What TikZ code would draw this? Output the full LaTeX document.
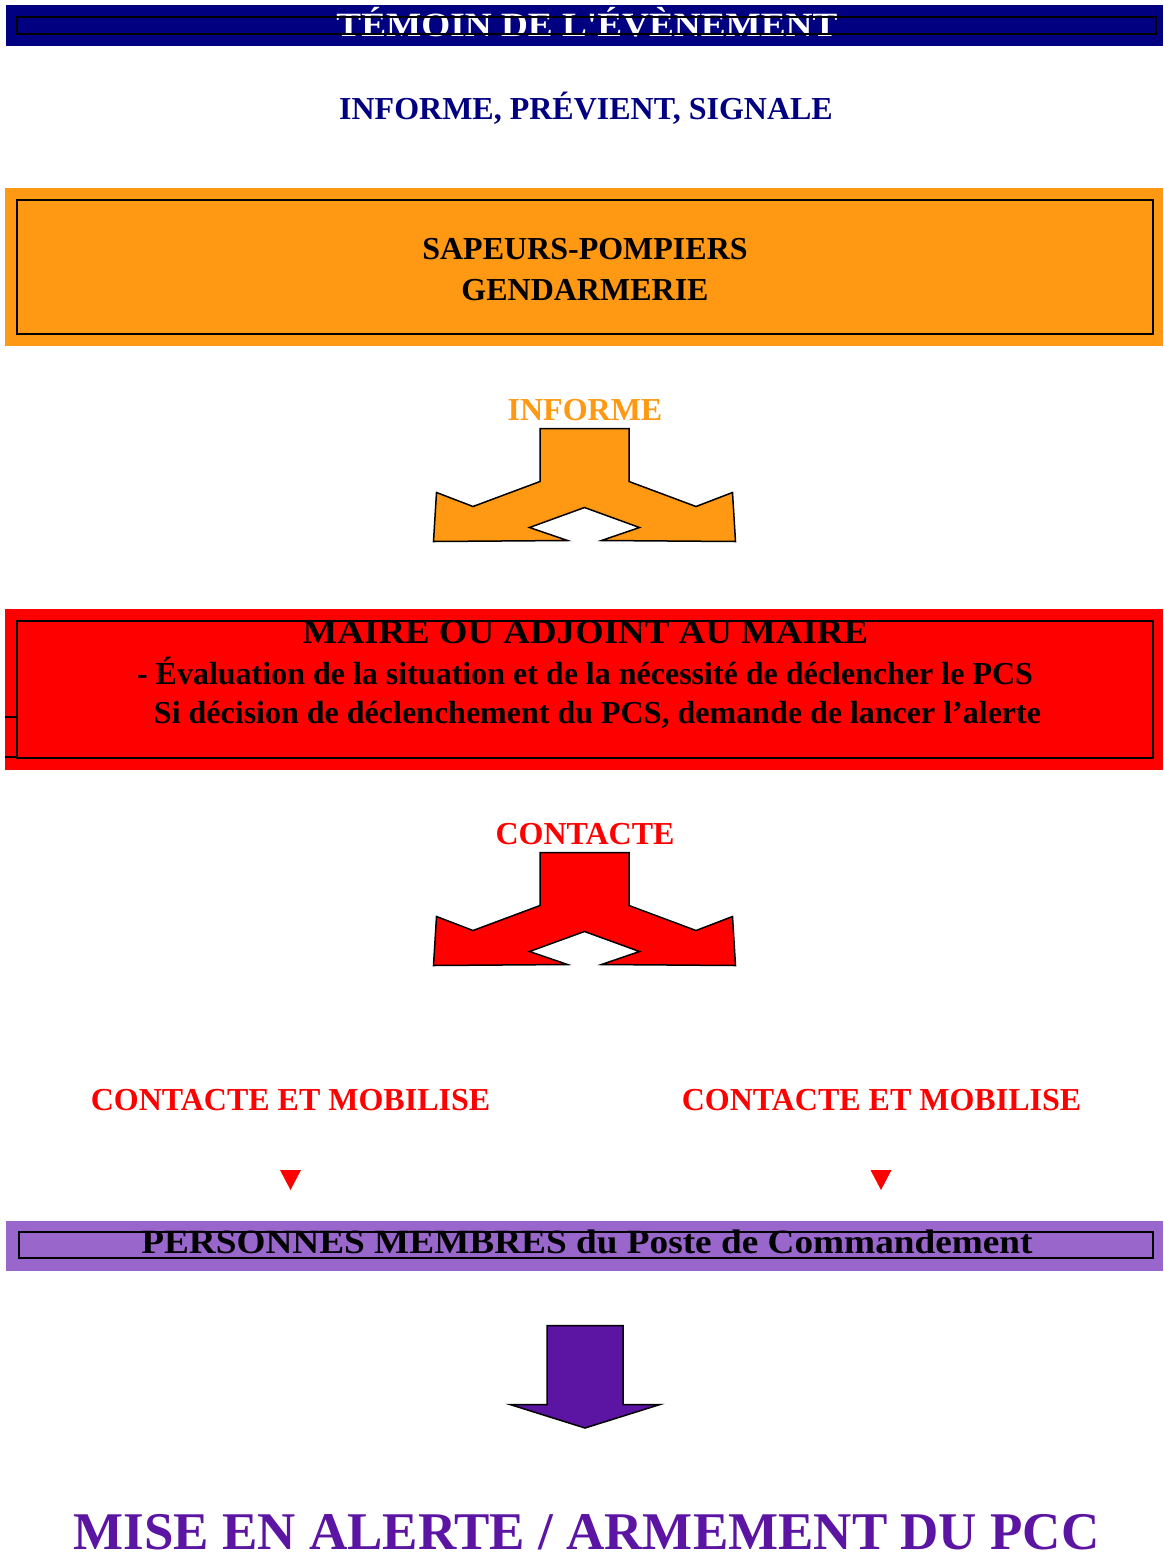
\documentclass[tikz,border=0pt]{standalone}
\usepackage{fontspec}
\setmainfont{Liberation Serif}
\newfontfamily\widefont[FakeStretch=1.13]{Liberation Serif}
\usepackage{tikz}
\definecolor{navybar}{HTML}{000080}
\definecolor{orangebar}{HTML}{FF9914}
\definecolor{purplebar}{HTML}{9966CC}
\definecolor{purpledark}{HTML}{5C14A2}

\begin{document}
\begin{tikzpicture}
[x=1pt,y=-1pt,
 txt/.style={font=\bfseries\fontsize{32}{38}\selectfont,anchor=base,inner sep=0pt},
 widetxt/.style={font=\widefont\bfseries\fontsize{34}{38}\selectfont,anchor=base,inner sep=0pt},
 frame/.style={draw=black,line width=2pt},
 blk/.style={draw=black,line width=1.5pt,line join=miter}]
\useasboundingbox (0,0) rectangle (1163,1558);
% bandeaux
\fill[navybar] (6,5) rectangle (1163,46);
\node[widetxt,white,xscale=0.97] (temoin) at (587,36) {TÉMOIN DE L'ÉVÈNEMENT};
\draw[frame] (17,17) rectangle (1156,34);
\node[txt,navybar] (signale) at (586,119) {INFORME, PRÉVIENT, SIGNALE};
\fill[orangebar] (5,188) rectangle (1163,346);
\draw[frame] (17,200) rectangle (1153,334);
\node[txt] (pompiers) at (585,259) {SAPEURS-POMPIERS};
\node[txt] (gendarmerie) at (585,300) {GENDARMERIE};
\node[txt,orangebar] (informe) at (585,420) {INFORME};
\fill[red] (5,609) rectangle (1163,770);
\draw[frame] (17,621) rectangle (1153,758);
\draw[line width=2pt] (5,717)--(17,717);\draw[line width=2pt] (5,757)--(17,757);
\node[widetxt,xscale=0.96] (maire) at (585.5,643) {MAIRE OU ADJOINT AU MAIRE};
\node[txt] (evaluation) at (585,684) {- Évaluation de la situation et de la nécessité de déclencher le PCS};
\node[txt] (decision) at (597.5,723) {Si décision de déclenchement du PCS, demande de lancer l’alerte};
\node[txt,red] (contacte) at (585,844) {CONTACTE};
% fleches a deux branches
\foreach \dy/\col in {0/orangebar,424/red}
\filldraw[blk,fill=\col,shift={(0,\dy)}] (540,428.5)--(629,428.5)--(629,481.5)--(696,506.5)--(732.5,492.5)--(735.5,541.5)--(601.5,540.5)--(639.5,527.5)--(584.5,507.5)--(529.5,527.5)--(567.5,540.5)--(433.5,541.5)--(436.5,492.5)--(473,506.5)--(540,481.5)--cycle;
\node[txt,red] (mobiliseA) at (290.5,1110) {CONTACTE ET MOBILISE};
\node[txt,red] (mobiliseB) at (881.5,1110) {CONTACTE ET MOBILISE};
\foreach \tx in {290.5,881} \fill[red] (\tx-10.5,1170)--(\tx+10.5,1170)--(\tx,1190)--cycle;
\fill[purplebar] (6,1221) rectangle (1163,1271);
\node[widetxt,xscale=0.97] (membres) at (587,1253) {PERSONNES MEMBRES du Poste de Commandement};
\draw[frame] (19,1232) rectangle (1153,1258);
\filldraw[blk,fill=purpledark] (547,1325.5)--(623,1325.5)--(623,1404.5)--(660,1404.5)--(585,1428)--(510,1404.5)--(547,1404.5)--cycle;
\node[txt,purpledark,font=\bfseries\fontsize{53}{60}\selectfont] (alerte) at (586.5,1549) {MISE EN ALERTE / ARMEMENT DU PCC};
\end{tikzpicture}
\end{document}
